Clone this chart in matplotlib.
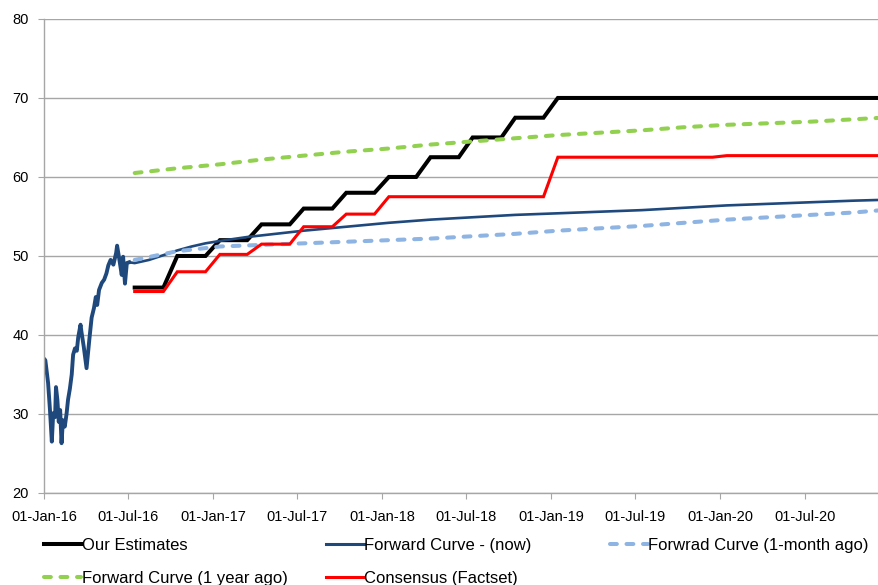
import matplotlib
matplotlib.use('Agg')
import matplotlib.pyplot as plt
import matplotlib.dates as mdates
from matplotlib.lines import Line2D
import pandas as pd

plt.rcParams['font.family'] = ['Liberation Sans', 'DejaVu Sans']

# spot price history (daily-ish readings)
hist_dates = ['2016-01-01', '2016-01-04', '2016-01-10', '2016-01-14', '2016-01-18', '2016-01-21',
              '2016-01-25', '2016-01-27', '2016-01-30', '2016-02-02', '2016-02-05', '2016-02-08',
              '2016-02-11', '2016-02-15', '2016-02-19', '2016-02-22', '2016-02-26', '2016-03-01',
              '2016-03-04', '2016-03-08', '2016-03-12', '2016-03-15', '2016-03-20', '2016-03-22',
              '2016-03-27', '2016-04-02', '2016-04-08', '2016-04-13', '2016-04-18', '2016-04-22',
              '2016-04-25', '2016-04-29', '2016-05-05', '2016-05-10', '2016-05-15', '2016-05-19',
              '2016-05-24', '2016-05-30', '2016-06-05', '2016-06-07', '2016-06-12', '2016-06-17',
              '2016-06-20', '2016-06-24', '2016-06-28', '2016-07-03']
hist_vals = [37.0, 36.8, 33.9, 30.5, 26.5, 30.1,
             29.6, 33.4, 31.8, 29.0, 30.5, 26.3,
             29.2, 28.4, 30.1, 31.8, 33.2, 35.0,
             37.5, 38.3, 38.0, 39.7, 41.3, 40.4,
             38.5, 35.8, 39.4, 42.2, 43.4, 44.8,
             43.8, 45.7, 46.6, 47.0, 47.8, 48.8,
             49.5, 48.9, 50.4, 51.3, 49.5, 47.6,
             49.9, 46.5, 49.1, 49.2]

# monthly forecasts Jul-16 .. Dec-20 (mid-month)
month_dates = pd.date_range('2016-07-01', '2020-12-01', freq='MS') + pd.Timedelta(days=14)
our_estimates = [46, 46, 46, 50, 50, 50,
                 52, 52, 52, 54, 54, 54, 56, 56, 56, 58, 58, 58,
                 60, 60, 60, 62.5, 62.5, 62.5, 65, 65, 65, 67.5, 67.5, 67.5,
                 70, 70, 70, 70, 70, 70, 70, 70, 70, 70, 70, 70,
                 70, 70, 70, 70, 70, 70, 70, 70, 70, 70, 70, 70]
consensus = [45.5, 45.5, 45.5, 48, 48, 48,
             50.2, 50.2, 50.2, 51.5, 51.5, 51.5, 53.7, 53.7, 53.7, 55.3, 55.3, 55.3,
             57.5, 57.5, 57.5, 57.5, 57.5, 57.5, 57.5, 57.5, 57.5, 57.5, 57.5, 57.5,
             62.5, 62.5, 62.5, 62.5, 62.5, 62.5, 62.5, 62.5, 62.5, 62.5, 62.5, 62.5,
             62.7, 62.7, 62.7, 62.7, 62.7, 62.7, 62.7, 62.7, 62.7, 62.7, 62.7, 62.7]

fwd_now_dates = ['2016-07-03', '2016-07-15', '2016-08-15', '2016-09-15', '2016-10-15', '2016-11-15',
                 '2016-12-15', '2017-01-15', '2017-03-15', '2017-05-15', '2017-07-15', '2017-10-15',
                 '2018-01-15', '2018-04-15', '2018-07-15', '2018-10-15', '2019-01-15', '2019-04-15',
                 '2019-07-15', '2019-10-15', '2020-01-15', '2020-04-15', '2020-07-15', '2020-10-15',
                 '2020-12-15']
fwd_now = [49.2, 49.1, 49.5, 50.1, 50.7, 51.2,
           51.6, 51.9, 52.4, 52.8, 53.2, 53.7,
           54.2, 54.6, 54.9, 55.2, 55.4, 55.6,
           55.8, 56.1, 56.4, 56.6, 56.8, 57.0,
           57.1]

fwd_dates = ['2016-07-15', '2016-10-15', '2017-01-15', '2017-04-15', '2017-07-15', '2017-10-15',
             '2018-01-15', '2018-04-15', '2018-07-15', '2018-10-15', '2019-01-15', '2019-04-15',
             '2019-07-15', '2019-10-15', '2020-01-15', '2020-04-15', '2020-07-15', '2020-10-15',
             '2020-12-15']
fwd_1m = [49.5, 50.6, 51.2, 51.4, 51.6, 51.8,
          52.0, 52.2, 52.5, 52.8, 53.2, 53.5,
          53.8, 54.2, 54.6, 54.9, 55.2, 55.5,
          55.8]
fwd_1y = [60.5, 61.1, 61.6, 62.2, 62.7, 63.2,
          63.6, 64.1, 64.5, 64.9, 65.3, 65.6,
          65.9, 66.3, 66.6, 66.8, 67.0, 67.3,
          67.5]

tick_dates = ['2016-01-01', '2016-07-01', '2017-01-01', '2017-07-01', '2018-01-01',
              '2018-07-01', '2019-01-01', '2019-07-01', '2020-01-01', '2020-07-01']

c_black = '#000000'
c_navy = '#1F497D'
c_lblue = '#8DB4E2'
c_green = '#92D050'
c_red = '#FF0000'
dash = (1.7, 2.4)

fig = plt.figure(figsize=(8.79, 5.85), dpi=100)
ax = fig.add_axes([0.05, 0.1573, 0.9507, 0.8103])

ax.plot(month_dates, our_estimates, color=c_black, lw=2.9, solid_joinstyle='miter')
ax.plot(pd.to_datetime(hist_dates), hist_vals, color=c_navy, lw=2.8)
ax.plot(pd.to_datetime(fwd_now_dates), fwd_now, color=c_navy, lw=1.9)
ax.plot(pd.to_datetime(fwd_dates), fwd_1m, color=c_lblue, lw=2.9, dashes=dash, dash_capstyle='round')
ax.plot(pd.to_datetime(fwd_dates), fwd_1y, color=c_green, lw=2.9, dashes=dash, dash_capstyle='round')
ax.plot(month_dates, consensus, color=c_red, lw=2.2, solid_joinstyle='miter')

ax.set_xlim(pd.Timestamp('2016-01-01'), pd.Timestamp('2020-12-10'))
ax.set_ylim(20, 80)
ax.set_yticks(range(20, 81, 10))
ax.set_xticks(pd.to_datetime(tick_dates))
ax.xaxis.set_major_formatter(mdates.DateFormatter('%d-%b-%y'))
ax.yaxis.grid(True, color='#a6a6a6', lw=1.0)
ax.set_axisbelow(True)
for s in ['top', 'right']:
    ax.spines[s].set_visible(False)
for s in ['left', 'bottom']:
    ax.spines[s].set_color('#a6a6a6')
    ax.spines[s].set_linewidth(1.0)
ax.tick_params(axis='both', colors='#a6a6a6', labelcolor='#000000', labelsize=10.5, length=4)
ax.tick_params(axis='x', pad=8)
ax.tick_params(axis='y', pad=7)

def handle(color, lw, dashed=False):
    if dashed:
        return Line2D([], [], color=color, lw=lw, dashes=dash, dash_capstyle='round')
    return Line2D([], [], color=color, lw=lw)

leg_kw = dict(loc='upper left', frameon=False, fontsize=12, handlelength=2.25,
              handletextpad=0.05, labelspacing=1.05, borderpad=0, borderaxespad=0)
fig.legend([handle(c_black, 2.9), handle(c_green, 2.9, True)],
           ['Our Estimates', 'Forward Curve (1 year ago)'],
           bbox_to_anchor=(0.05, 0.080), **leg_kw)
fig.legend([handle(c_navy, 2.2), handle(c_red, 2.2)],
           ['Forward Curve - (now)', 'Consensus (Factset)'],
           bbox_to_anchor=(0.371, 0.080), **leg_kw)
fig.legend([handle(c_lblue, 2.9, True)],
           ['Forwrad Curve (1-month ago)'],
           bbox_to_anchor=(0.694, 0.080), **leg_kw)

fig.savefig('out.png', dpi=100)
